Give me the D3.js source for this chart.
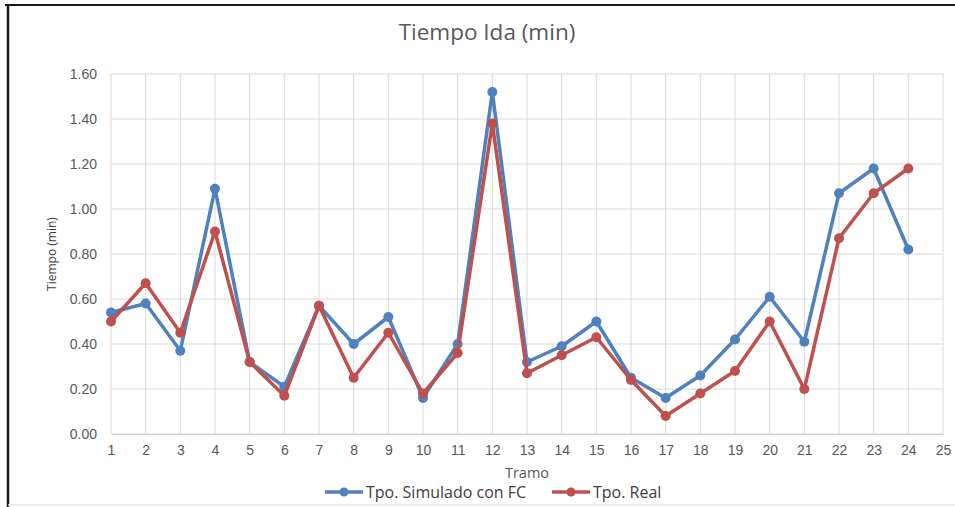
<!DOCTYPE html>
<html>
<head>
<meta charset="utf-8">
<script src="https://cdn.jsdelivr.net/npm/d3@7/dist/d3.min.js"></script>
<style>
  html, body { margin: 0; padding: 0; background: #fff; }
  svg { display: block; font-family: "Open Sans", "Liberation Sans", sans-serif; }
</style>
</head>
<body>
<svg id="chart" width="955" height="507"></svg>
<script>
// Tramos 1..24 (axis runs to 25)
const tramos = d3.range(1, 25);
const xTicks = d3.range(1, 26);
const yTicks = [0, 0.2, 0.4, 0.6, 0.8, 1.0, 1.2, 1.4, 1.6];

// Tiempo de ida por tramo (min)
const simulado = [0.54, 0.58, 0.37, 1.09, 0.32, 0.21, 0.57, 0.40, 0.52, 0.16, 0.40, 1.52,
                  0.32, 0.39, 0.50, 0.25, 0.16, 0.26, 0.42, 0.61, 0.41, 1.07, 1.18, 0.82];
const real     = [0.50, 0.67, 0.45, 0.90, 0.32, 0.17, 0.57, 0.25, 0.45, 0.18, 0.36, 1.38,
                  0.27, 0.35, 0.43, 0.24, 0.08, 0.18, 0.28, 0.50, 0.20, 0.87, 1.07, 1.18];

const seriesNames = ["Tpo. Simulado con FC", "Tpo. Real"];
const seriesColors = ["#4F81BD", "#C0504D"];
const series = [simulado, real];

const svg = d3.select("#chart");
const margin = { left: 111, right: 12, top: 74, bottom: 73 };
const W = 955, H = 507;

const x = d3.scaleLinear().domain([1, 25]).range([margin.left, W - margin.right]);
const y = d3.scaleLinear().domain([0, 1.6]).range([H - margin.bottom, margin.top]);

// Outer frame: dark top and left edges, light bottom edge
svg.append("line").attr("x1", 5).attr("x2", W).attr("y1", 5).attr("y2", 5)
  .attr("stroke", "#1a1a1a").attr("stroke-width", 2);
svg.append("line").attr("x1", 8).attr("x2", 8).attr("y1", 4).attr("y2", H)
  .attr("stroke", "#1a1a1a").attr("stroke-width", 2.5);
svg.append("line").attr("x1", 8).attr("x2", W).attr("y1", 505).attr("y2", 505)
  .attr("stroke", "#e3e3e3").attr("stroke-width", 1.5);

// Gridlines
const grid = svg.append("g").attr("stroke", "#d9d9d9").attr("stroke-width", 1);
grid.selectAll("line.h").data(yTicks).join("line")
  .attr("x1", x(1)).attr("x2", x(25))
  .attr("y1", d => y(d)).attr("y2", d => y(d));
grid.selectAll("line.v").data(xTicks).join("line")
  .attr("x1", d => x(d)).attr("x2", d => x(d))
  .attr("y1", y(0)).attr("y2", y(1.6));

// Axes
const yAxis = d3.axisLeft(y).tickValues(yTicks).tickFormat(d3.format(".2f")).tickSize(0).tickPadding(14);
const gy = svg.append("g").attr("transform", `translate(${x(1)},0)`).call(yAxis);
gy.select(".domain").remove();
gy.selectAll("text").attr("fill", "#595959").style("font-size", "14px");

const xAxis = d3.axisBottom(x).tickValues(xTicks).tickFormat(d3.format("d")).tickSize(0).tickPadding(11);
const gx = svg.append("g").attr("transform", `translate(0,${y(0)})`).call(xAxis);
gx.select(".domain").attr("stroke", "#d0d0d0");
gx.selectAll("text").attr("fill", "#595959").style("font-size", "14px");

// Titles
svg.append("text").attr("x", 487).attr("y", 40).attr("text-anchor", "middle")
  .attr("fill", "#595959").style("font-size", "22.5px").text("Tiempo Ida (min)");
svg.append("text").attr("x", 527).attr("y", 478).attr("text-anchor", "middle")
  .attr("fill", "#595959").style("font-size", "14.5px").text("Tramo");
svg.append("text").attr("transform", `translate(56,${(y(0) + y(1.6)) / 2}) rotate(-90)`)
  .attr("text-anchor", "middle").attr("fill", "#404040").style("font-size", "12px").text("Tiempo (min)");

// Series lines and markers
const line = d3.line().x((d, i) => x(tramos[i])).y(d => y(d));
series.forEach((vals, s) => {
  const g = svg.append("g");
  g.append("path").datum(vals).attr("d", line)
    .attr("fill", "none").attr("stroke", seriesColors[s]).attr("stroke-width", 3.5)
    .attr("stroke-linejoin", "round");
  g.selectAll("circle").data(vals).join("circle")
    .attr("cx", (d, i) => x(tramos[i])).attr("cy", d => y(d)).attr("r", 5)
    .attr("fill", seriesColors[s]);
});

// Legend
const legendItems = [{ x0: 325, tx: 366 }, { x0: 552, tx: 593 }];
legendItems.forEach((it, s) => {
  const g = svg.append("g");
  g.append("line").attr("x1", it.x0).attr("x2", it.x0 + 38).attr("y1", 492).attr("y2", 492)
    .attr("stroke", seriesColors[s]).attr("stroke-width", 3.5);
  g.append("circle").attr("cx", it.x0 + 19).attr("cy", 492).attr("r", 4.5).attr("fill", seriesColors[s]);
  g.append("text").attr("x", it.tx).attr("y", 498).attr("fill", "#404040")
    .style("font-size", "16px").text(seriesNames[s]);
});
</script>
</body>
</html>
